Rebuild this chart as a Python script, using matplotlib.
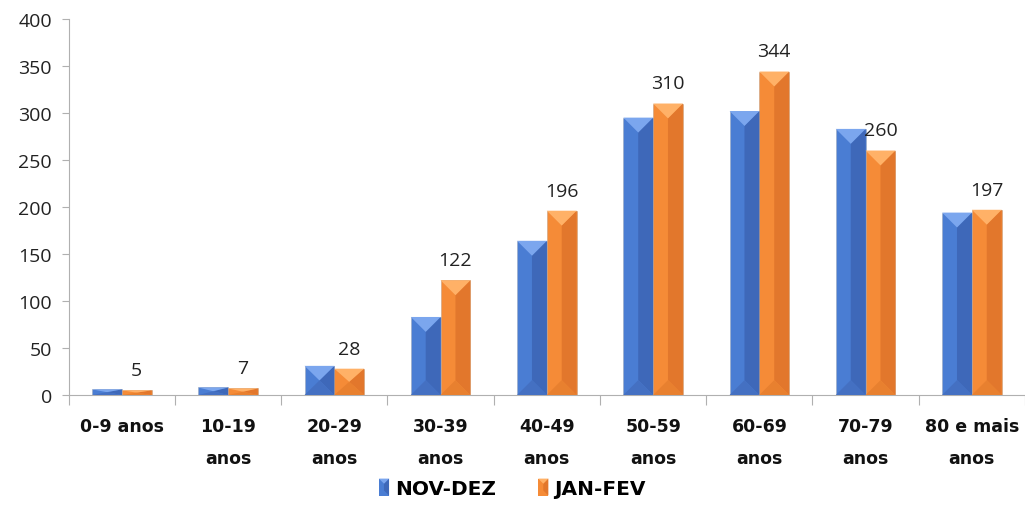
import matplotlib
matplotlib.use("Agg")
import matplotlib.pyplot as plt
from matplotlib.patches import Polygon, Rectangle
from matplotlib.legend_handler import HandlerBase

# dados
categorias = ["0-9 anos", "10-19\nanos", "20-29\nanos", "30-39\nanos", "40-49\nanos",
              "50-59\nanos", "60-69\nanos", "70-79\nanos", "80 e mais\nanos"]
nov_dez = [6, 8, 31, 83, 164, 295, 302, 283, 194]
jan_fev = [5, 7, 28, 122, 196, 310, 344, 260, 197]
series = ["NOV-DEZ", "JAN-FEV"]
yticks = [0, 50, 100, 150, 200, 250, 300, 350, 400]

# cores (base, lado direito, topo, base inferior)
azul = ("#4A7DD3", "#3E68B9", "#7BA6EE", "#4470C2")
laranja = ("#F58B37", "#E2772C", "#FFB167", "#E8802F")

fonte_num = ["Open Sans", "DejaVu Sans"]
fonte_cat = ["Liberation Sans Narrow", "DejaVu Sans"]

fig = plt.figure(figsize=(10.25, 5.1), dpi=100)
ax = fig.add_axes([0.067, 0.2235, 0.933, 0.7375])

n = len(categorias)
x = list(range(n))
w = 0.28

b1 = ax.bar([i - w / 2 for i in x], nov_dez, width=w, color=azul[0],
            edgecolor="#9aa8c0", linewidth=0.4, zorder=2)
b2 = ax.bar([i + w / 2 for i in x], jan_fev, width=w, color=laranja[0],
            edgecolor="#c8a080", linewidth=0.4, zorder=2)

ax.set_xlim(-0.5, n - 0.5)
ax.set_ylim(0, 400)

# efeito de bisel
bbox = ax.get_window_extent()
x_per_px = n / bbox.width
y_per_px = 400 / bbox.height


def bisel(bars, cores):
    for r in bars:
        x0, bw, h = r.get_x(), r.get_width(), r.get_height()
        half_px = bw / 2 / x_per_px
        d = min(half_px, (h / y_per_px) / 2) * y_per_px
        xm = x0 + bw / 2
        # lado direito mais escuro
        ax.add_patch(Polygon([(xm, h - d), (x0 + bw, h), (x0 + bw, 0), (xm, d)],
                             closed=True, facecolor=cores[1], edgecolor="none", zorder=3))
        # topo claro
        ax.add_patch(Polygon([(x0, h), (x0 + bw, h), (xm, h - d)],
                             closed=True, facecolor=cores[2], edgecolor="none", zorder=3))
        # fundo
        ax.add_patch(Polygon([(x0, 0), (x0 + bw, 0), (xm, d)],
                             closed=True, facecolor=cores[3], edgecolor="none", zorder=3))


bisel(b1, azul)
bisel(b2, laranja)

# rótulos de valor
for r, v in zip(b2, jan_fev):
    ax.annotate(str(v), (r.get_x() + r.get_width() / 2, r.get_height()),
                xytext=(0, 8), textcoords="offset points", ha="center", va="bottom",
                fontsize=14, family=fonte_num, color="#222222")

# eixos
for s in ["top", "right"]:
    ax.spines[s].set_visible(False)
ax.spines["left"].set_color("#b0b0b0")
ax.spines["bottom"].set_color("#b0b0b0")
ax.set_yticks(yticks)
ax.set_yticklabels([str(t) for t in yticks], fontsize=14, family=fonte_num, color="#222222")
ax.tick_params(axis="y", length=5, color="#b0b0b0", pad=7)

ax.set_xticks([i + 0.5 for i in x[:-1]] + [-0.5, n - 0.5], minor=False)
ax.set_xticklabels([""] * (n + 1))
ax.tick_params(axis="x", length=7, color="#b0b0b0")
ax.set_xticks(x, minor=True)
ax.set_xticklabels(categorias, minor=True, fontsize=12.5, fontweight="bold",
                   family=fonte_cat, linespacing=2.0, va="top", color="#111111")
ax.tick_params(axis="x", which="minor", length=0, pad=16)


# legenda com marcador em bisel
class HandlerBisel(HandlerBase):
    def __init__(self, cores):
        super().__init__()
        self.cores = cores

    def create_artists(self, legend, orig, xd, yd, width, height, fontsize, trans):
        c = self.cores
        s = height * 1.2
        bw = s * 0.6
        x0 = xd + width - bw
        y0 = yd + (height - s) / 2
        base = Rectangle((x0, y0), bw, s, facecolor=c[0], edgecolor="none", transform=trans)
        dir_ = Polygon([(x0 + bw / 2, y0 + s - bw / 2), (x0 + bw, y0 + s), (x0 + bw, y0),
                        (x0 + bw / 2, y0 + bw / 2)],
                       closed=True, facecolor=c[1], edgecolor="none", transform=trans)
        topo = Polygon([(x0, y0 + s), (x0 + bw, y0 + s), (x0 + bw / 2, y0 + s - bw / 2)],
                       closed=True, facecolor=c[2], edgecolor="none", transform=trans)
        return [base, dir_, topo]


h1 = Rectangle((0, 0), 1, 1)
h2 = Rectangle((0, 0), 1, 1)
fig.legend([h1, h2], series, loc="center", bbox_to_anchor=(0.497, 0.04),
           ncol=2, frameon=False, handlelength=0.8, handletextpad=0.3, columnspacing=1.8,
           handler_map={h1: HandlerBisel(azul), h2: HandlerBisel(laranja)},
           prop={"family": fonte_cat, "weight": "bold", "size": 14.5})

fig.savefig("out.png", dpi=100)
